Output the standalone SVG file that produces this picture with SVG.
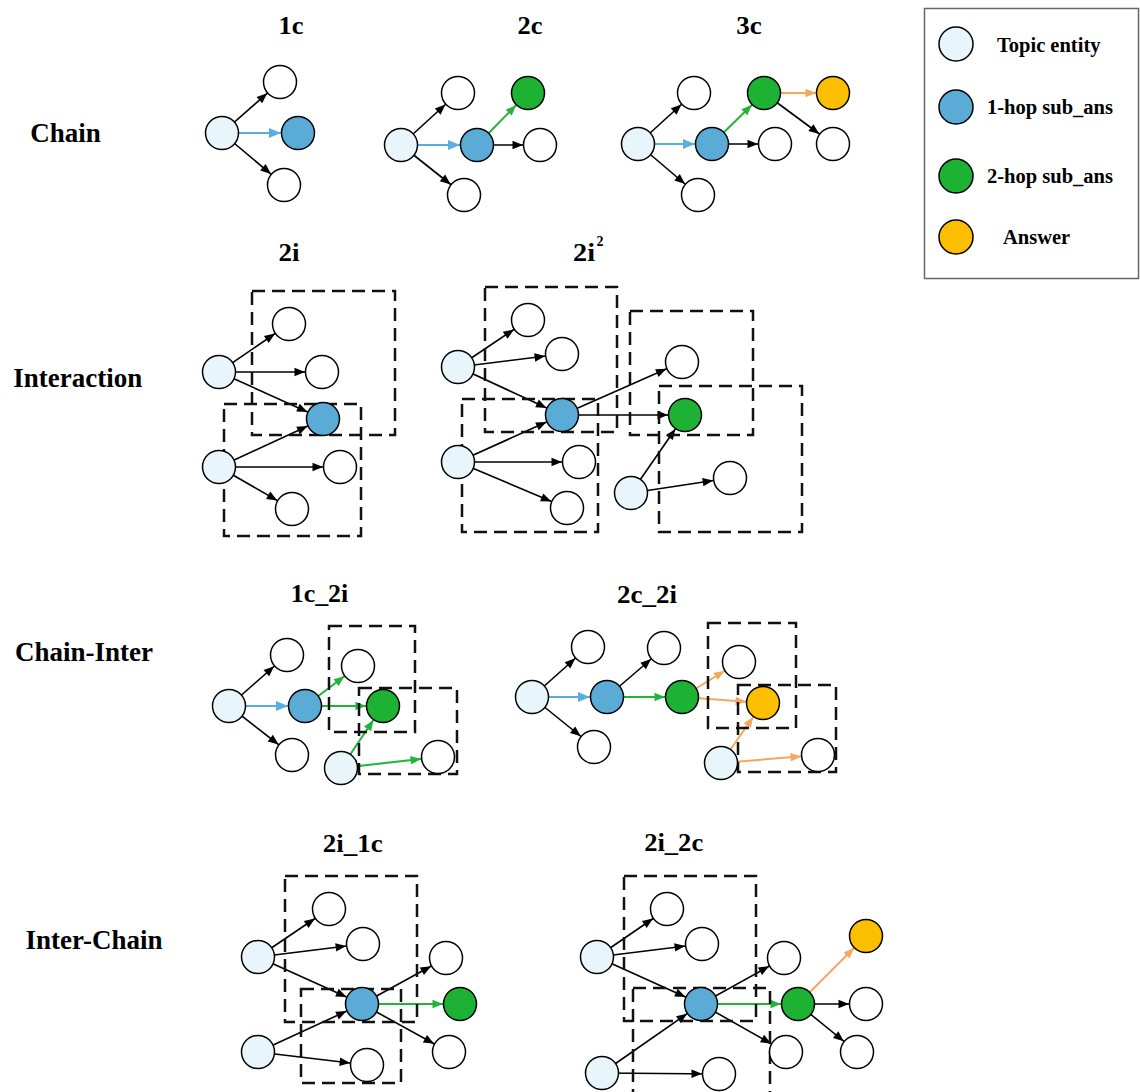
<svg xmlns="http://www.w3.org/2000/svg" width="1140" height="1092" viewBox="0 0 1140 1092">
  <style>
    .bg { fill: #ffffff; }
    .lbl { font-family: "Liberation Serif", "Times New Roman", serif; font-weight: bold; fill: #000; }
    .row { font-size: 27px; text-anchor: middle; }
    .ttl { font-size: 25px; text-anchor: middle; }
    .leg { font-size: 20.5px; }
    circle { stroke: #000; stroke-width: 1.5; }
    .t { fill: #e8f5fa; }
    .b { fill: #5aacd6; }
    .g { fill: #1db233; }
    .y { fill: #fbbf00; }
    .w { fill: #ffffff; }
    .k { stroke: #000; stroke-width: 1.6; marker-end: url(#ak); }
    .bl { stroke: #5aaedd; stroke-width: 2; marker-end: url(#abl); }
    .gr { stroke: #22b33a; stroke-width: 2; marker-end: url(#agr); }
    .or { stroke: #f8a65b; stroke-width: 2; marker-end: url(#aor); }
    .box { fill: none; stroke: #111; stroke-width: 2.5; stroke-dasharray: 13 7; }
  </style>
  <defs>
    <!-- arrowheads: tip sits on the rim of a target circle (r ~ 17) -->
    <marker id="ak" markerUnits="userSpaceOnUse" markerWidth="12" markerHeight="10" refX="27.5" refY="4.25" orient="auto" overflow="visible">
      <path d="M0,0 L10.5,4.25 L0,8.5 z" fill="#000"/>
    </marker>
    <marker id="abl" markerUnits="userSpaceOnUse" markerWidth="14" markerHeight="12" refX="29" refY="5" orient="auto" overflow="visible">
      <path d="M0,0 L12,5 L0,10 z" fill="#5aaedd"/>
    </marker>
    <marker id="agr" markerUnits="userSpaceOnUse" markerWidth="12" markerHeight="10" refX="27.5" refY="4.25" orient="auto" overflow="visible">
      <path d="M0,0 L10.5,4.25 L0,8.5 z" fill="#22b33a"/>
    </marker>
    <marker id="aor" markerUnits="userSpaceOnUse" markerWidth="12" markerHeight="10" refX="27.5" refY="4.25" orient="auto" overflow="visible">
      <path d="M0,0 L10.5,4.25 L0,8.5 z" fill="#f8a65b"/>
    </marker>
  </defs>

  <rect class="bg" x="0" y="0" width="1140" height="1092"/>

  <!-- row labels -->
  <g id="row-labels" class="lbl row">
    <text x="65.5" y="142">Chain</text>
    <text x="77.7" y="387">Interaction</text>
    <text x="84" y="661">Chain-Inter</text>
    <text x="94" y="949">Inter-Chain</text>
  </g>

  <!-- query-type titles -->
  <g id="titles" class="lbl ttl">
    <text x="291" y="34" textLength="25" lengthAdjust="spacingAndGlyphs">1c</text>
    <text x="530" y="34" textLength="25" lengthAdjust="spacingAndGlyphs">2c</text>
    <text x="749" y="34" textLength="25.5" lengthAdjust="spacingAndGlyphs">3c</text>
    <text x="289" y="261" textLength="21" lengthAdjust="spacingAndGlyphs">2i</text>
    <text x="584" y="261" textLength="22" lengthAdjust="spacingAndGlyphs">2i</text>
    <text x="600" y="246" style="font-size:14px">2</text>
    <text x="319.5" y="602" textLength="57.6" lengthAdjust="spacingAndGlyphs">1c_2i</text>
    <text x="647" y="603" textLength="60" lengthAdjust="spacingAndGlyphs">2c_2i</text>
    <text x="352.7" y="852" textLength="60" lengthAdjust="spacingAndGlyphs">2i_1c</text>
    <text x="673.7" y="851" textLength="59" lengthAdjust="spacingAndGlyphs">2i_2c</text>
  </g>

  <!-- legend -->
  <g id="legend">
    <rect x="924.5" y="8.5" width="214" height="270" fill="none" stroke="#666" stroke-width="1.5"/>
    <g id="leg-topic"><circle class="t" cx="956" cy="44" r="17"/><text class="lbl leg" x="997" y="51.5">Topic entity</text></g>
    <g id="leg-1hop"><circle class="b" cx="956" cy="107" r="17"/><text class="lbl leg" x="987" y="114">1-hop sub_ans</text></g>
    <g id="leg-2hop"><circle class="g" cx="956" cy="176" r="17"/><text class="lbl leg" x="987" y="183">2-hop sub_ans</text></g>
    <g id="leg-answer"><circle class="y" cx="956" cy="237" r="17"/><text class="lbl leg" x="1003" y="244">Answer</text></g>
  </g>

  <!-- connectors: drawn centre to centre, nodes cover the ends -->
  <g id="connectors">
    <!-- 1c -->
    <line class="k" x1="222" y1="133" x2="280" y2="82"/>
    <line class="bl" x1="222" y1="133" x2="298" y2="133"/>
    <line class="k" x1="222" y1="133" x2="284" y2="185"/>
    <!-- 2c -->
    <line class="k" x1="401" y1="145" x2="458" y2="93"/>
    <line class="bl" x1="401" y1="145" x2="477" y2="145"/>
    <line class="k" x1="401" y1="145" x2="464" y2="195"/>
    <line class="gr" x1="477" y1="145" x2="528" y2="93"/>
    <line class="k" x1="477" y1="145" x2="540" y2="145"/>
    <!-- 3c -->
    <line class="k" x1="638" y1="144" x2="694" y2="93"/>
    <line class="bl" x1="638" y1="144" x2="712" y2="144"/>
    <line class="k" x1="638" y1="144" x2="698" y2="195"/>
    <line class="gr" x1="712" y1="144" x2="764" y2="93"/>
    <line class="k" x1="712" y1="144" x2="775" y2="144"/>
    <line class="or" x1="764" y1="93" x2="833" y2="93"/>
    <line class="k" x1="764" y1="93" x2="833" y2="144"/>
    <!-- 2i -->
    <line class="k" x1="219" y1="372" x2="289" y2="324"/>
    <line class="k" x1="219" y1="372" x2="322" y2="372"/>
    <line class="k" x1="219" y1="372" x2="323" y2="419"/>
    <line class="k" x1="219" y1="467" x2="323" y2="419"/>
    <line class="k" x1="219" y1="467" x2="340" y2="467"/>
    <line class="k" x1="219" y1="467" x2="292" y2="509"/>
    <!-- 2i^2 -->
    <line class="k" x1="458" y1="367" x2="528" y2="320"/>
    <line class="k" x1="458" y1="367" x2="562" y2="354"/>
    <line class="k" x1="458" y1="367" x2="562" y2="415"/>
    <line class="k" x1="458" y1="462" x2="562" y2="415"/>
    <line class="k" x1="458" y1="462" x2="579" y2="462"/>
    <line class="k" x1="458" y1="462" x2="567" y2="508"/>
    <line class="k" x1="562" y1="415" x2="682" y2="362"/>
    <line class="k" x1="562" y1="415" x2="685" y2="415"/>
    <line class="k" x1="631" y1="493" x2="685" y2="415"/>
    <line class="k" x1="631" y1="493" x2="730" y2="478"/>
    <!-- 1c_2i -->
    <line class="k" x1="229" y1="706" x2="287" y2="655"/>
    <line class="k" x1="229" y1="706" x2="292" y2="755"/>
    <line class="bl" x1="229" y1="706" x2="305" y2="706"/>
    <line class="gr" x1="305" y1="706" x2="358" y2="666"/>
    <line class="gr" x1="305" y1="706" x2="383" y2="706"/>
    <line class="gr" x1="341" y1="768" x2="383" y2="706"/>
    <line class="gr" x1="341" y1="768" x2="438" y2="757"/>
    <!-- 2c_2i -->
    <line class="k" x1="532" y1="697" x2="588" y2="647"/>
    <line class="k" x1="532" y1="697" x2="594" y2="747"/>
    <line class="bl" x1="532" y1="697" x2="607" y2="697"/>
    <line class="k" x1="607" y1="697" x2="664" y2="648"/>
    <line class="gr" x1="607" y1="697" x2="682" y2="697"/>
    <line class="or" x1="682" y1="697" x2="739" y2="662"/>
    <line class="or" x1="682" y1="697" x2="763" y2="703"/>
    <line class="or" x1="721" y1="763" x2="763" y2="703"/>
    <line class="or" x1="721" y1="763" x2="818" y2="755"/>
    <!-- 2i_1c -->
    <line class="k" x1="258" y1="957" x2="329" y2="909"/>
    <line class="k" x1="258" y1="957" x2="363" y2="944"/>
    <line class="k" x1="258" y1="957" x2="362" y2="1004"/>
    <line class="k" x1="258" y1="1052" x2="362" y2="1004"/>
    <line class="k" x1="258" y1="1052" x2="367" y2="1065"/>
    <line class="k" x1="362" y1="1004" x2="446" y2="958"/>
    <line class="gr" x1="362" y1="1004" x2="460" y2="1004"/>
    <line class="k" x1="362" y1="1004" x2="449" y2="1052"/>
    <!-- 2i_2c -->
    <line class="k" x1="597" y1="957" x2="667" y2="909"/>
    <line class="k" x1="597" y1="957" x2="702" y2="944"/>
    <line class="k" x1="597" y1="957" x2="701" y2="1004"/>
    <line class="k" x1="602" y1="1073" x2="701" y2="1004"/>
    <line class="k" x1="602" y1="1073" x2="719" y2="1074"/>
    <line class="k" x1="701" y1="1004" x2="784" y2="958"/>
    <line class="k" x1="701" y1="1004" x2="786" y2="1052"/>
    <line class="gr" x1="701" y1="1004" x2="798" y2="1004"/>
    <line class="or" x1="798" y1="1004" x2="866" y2="936"/>
    <line class="k" x1="798" y1="1004" x2="866" y2="1004"/>
    <line class="k" x1="798" y1="1004" x2="857" y2="1052"/>
  </g>

  <!-- dashed projection scopes -->
  <g id="scopes">
    <rect class="box" x="252" y="291" width="143" height="144"/>
    <rect class="box" x="224" y="404" width="137" height="132"/>
    <rect class="box" x="485" y="287" width="132" height="145"/>
    <rect class="box" x="462" y="399" width="136" height="133"/>
    <rect class="box" x="630" y="311" width="123" height="124"/>
    <rect class="box" x="659" y="386" width="143" height="146"/>
    <rect class="box" x="329" y="626" width="86" height="106"/>
    <rect class="box" x="359" y="688" width="98" height="86"/>
    <rect class="box" x="708" y="623" width="88" height="105"/>
    <rect class="box" x="738" y="685" width="98" height="87"/>
    <rect class="box" x="285" y="876" width="132" height="146"/>
    <rect class="box" x="301" y="989" width="100" height="94"/>
    <rect class="box" x="624" y="876" width="132" height="145"/>
    <rect class="box" x="633" y="988" width="137" height="120"/>
  </g>

  <!-- nodes -->
  <g id="nodes">
    <g id="q1c">
      <g id="q1c-t"><circle class="t" cx="222" cy="133" r="16.5"/></g>
      <g id="q1c-w1"><circle class="w" cx="280" cy="82" r="16.5"/></g>
      <g id="q1c-a1"><circle class="b" cx="298" cy="133" r="16.5"/></g>
      <g id="q1c-w2"><circle class="w" cx="284" cy="185" r="16.5"/></g>
    </g>
    <g id="q2c">
      <g id="q2c-t"><circle class="t" cx="401" cy="145" r="16.5"/></g>
      <g id="q2c-w1"><circle class="w" cx="458" cy="93" r="16.5"/></g>
      <g id="q2c-a1"><circle class="b" cx="477" cy="145" r="16.5"/></g>
      <g id="q2c-w2"><circle class="w" cx="464" cy="195" r="16.5"/></g>
      <g id="q2c-a2"><circle class="g" cx="528" cy="93" r="16.5"/></g>
      <g id="q2c-w3"><circle class="w" cx="540" cy="145" r="16.5"/></g>
    </g>
    <g id="q3c">
      <g id="q3c-t"><circle class="t" cx="638" cy="144" r="16.5"/></g>
      <g id="q3c-w1"><circle class="w" cx="694" cy="93" r="16.5"/></g>
      <g id="q3c-a1"><circle class="b" cx="712" cy="144" r="16.5"/></g>
      <g id="q3c-w2"><circle class="w" cx="698" cy="195" r="16.5"/></g>
      <g id="q3c-a2"><circle class="g" cx="764" cy="93" r="16.5"/></g>
      <g id="q3c-w3"><circle class="w" cx="775" cy="144" r="16.5"/></g>
      <g id="q3c-ans"><circle class="y" cx="833" cy="93" r="16.5"/></g>
      <g id="q3c-w4"><circle class="w" cx="833" cy="144" r="16.5"/></g>
    </g>
    <g id="q2i">
      <g id="q2i-t1"><circle class="t" cx="219" cy="372" r="16.5"/></g>
      <g id="q2i-w1"><circle class="w" cx="289" cy="324" r="16.5"/></g>
      <g id="q2i-w2"><circle class="w" cx="322" cy="372" r="16.5"/></g>
      <g id="q2i-a1"><circle class="b" cx="323" cy="419" r="16.5"/></g>
      <g id="q2i-t2"><circle class="t" cx="219" cy="467" r="16.5"/></g>
      <g id="q2i-w3"><circle class="w" cx="340" cy="467" r="16.5"/></g>
      <g id="q2i-w4"><circle class="w" cx="292" cy="509" r="16.5"/></g>
    </g>
    <g id="q2i2">
      <g id="q2i2-t1"><circle class="t" cx="458" cy="367" r="16.5"/></g>
      <g id="q2i2-w1"><circle class="w" cx="528" cy="320" r="16.5"/></g>
      <g id="q2i2-w2"><circle class="w" cx="562" cy="354" r="16.5"/></g>
      <g id="q2i2-a1"><circle class="b" cx="562" cy="415" r="16.5"/></g>
      <g id="q2i2-t2"><circle class="t" cx="458" cy="462" r="16.5"/></g>
      <g id="q2i2-w3"><circle class="w" cx="579" cy="462" r="16.5"/></g>
      <g id="q2i2-w4"><circle class="w" cx="567" cy="508" r="16.5"/></g>
      <g id="q2i2-w5"><circle class="w" cx="682" cy="362" r="16.5"/></g>
      <g id="q2i2-a2"><circle class="g" cx="685" cy="415" r="16.5"/></g>
      <g id="q2i2-t3"><circle class="t" cx="631" cy="493" r="16.5"/></g>
      <g id="q2i2-w6"><circle class="w" cx="730" cy="478" r="16.5"/></g>
    </g>
    <g id="q1c2i">
      <g id="q1c2i-t1"><circle class="t" cx="229" cy="706" r="16.5"/></g>
      <g id="q1c2i-w1"><circle class="w" cx="287" cy="655" r="16.5"/></g>
      <g id="q1c2i-w2"><circle class="w" cx="292" cy="755" r="16.5"/></g>
      <g id="q1c2i-a1"><circle class="b" cx="305" cy="706" r="16.5"/></g>
      <g id="q1c2i-w3"><circle class="w" cx="358" cy="666" r="16.5"/></g>
      <g id="q1c2i-a2"><circle class="g" cx="383" cy="706" r="16.5"/></g>
      <g id="q1c2i-t2"><circle class="t" cx="341" cy="768" r="16.5"/></g>
      <g id="q1c2i-w4"><circle class="w" cx="438" cy="757" r="16.5"/></g>
    </g>
    <g id="q2c2i">
      <g id="q2c2i-t1"><circle class="t" cx="532" cy="697" r="16.5"/></g>
      <g id="q2c2i-w1"><circle class="w" cx="588" cy="647" r="16.5"/></g>
      <g id="q2c2i-w2"><circle class="w" cx="594" cy="747" r="16.5"/></g>
      <g id="q2c2i-a1"><circle class="b" cx="607" cy="697" r="16.5"/></g>
      <g id="q2c2i-w3"><circle class="w" cx="664" cy="648" r="16.5"/></g>
      <g id="q2c2i-a2"><circle class="g" cx="682" cy="697" r="16.5"/></g>
      <g id="q2c2i-w4"><circle class="w" cx="739" cy="662" r="16.5"/></g>
      <g id="q2c2i-ans"><circle class="y" cx="763" cy="703" r="16.5"/></g>
      <g id="q2c2i-t2"><circle class="t" cx="721" cy="763" r="16.5"/></g>
      <g id="q2c2i-w5"><circle class="w" cx="818" cy="755" r="16.5"/></g>
    </g>
    <g id="q2i1c">
      <g id="q2i1c-t1"><circle class="t" cx="258" cy="957" r="16.5"/></g>
      <g id="q2i1c-w1"><circle class="w" cx="329" cy="909" r="16.5"/></g>
      <g id="q2i1c-w2"><circle class="w" cx="363" cy="944" r="16.5"/></g>
      <g id="q2i1c-a1"><circle class="b" cx="362" cy="1004" r="16.5"/></g>
      <g id="q2i1c-t2"><circle class="t" cx="258" cy="1052" r="16.5"/></g>
      <g id="q2i1c-w3"><circle class="w" cx="367" cy="1065" r="16.5"/></g>
      <g id="q2i1c-w4"><circle class="w" cx="446" cy="958" r="16.5"/></g>
      <g id="q2i1c-a2"><circle class="g" cx="460" cy="1004" r="16.5"/></g>
      <g id="q2i1c-w5"><circle class="w" cx="449" cy="1052" r="16.5"/></g>
    </g>
    <g id="q2i2c">
      <g id="q2i2c-t1"><circle class="t" cx="597" cy="957" r="16.5"/></g>
      <g id="q2i2c-w1"><circle class="w" cx="667" cy="909" r="16.5"/></g>
      <g id="q2i2c-w2"><circle class="w" cx="702" cy="944" r="16.5"/></g>
      <g id="q2i2c-a1"><circle class="b" cx="701" cy="1004" r="16.5"/></g>
      <g id="q2i2c-t2"><circle class="t" cx="602" cy="1073" r="16.5"/></g>
      <g id="q2i2c-w3"><circle class="w" cx="719" cy="1074" r="16.5"/></g>
      <g id="q2i2c-w4"><circle class="w" cx="784" cy="958" r="16.5"/></g>
      <g id="q2i2c-w5"><circle class="w" cx="786" cy="1052" r="16.5"/></g>
      <g id="q2i2c-a2"><circle class="g" cx="798" cy="1004" r="16.5"/></g>
      <g id="q2i2c-ans"><circle class="y" cx="866" cy="936" r="16.5"/></g>
      <g id="q2i2c-w6"><circle class="w" cx="866" cy="1004" r="16.5"/></g>
      <g id="q2i2c-w7"><circle class="w" cx="857" cy="1052" r="16.5"/></g>
    </g>
  </g>
</svg>
